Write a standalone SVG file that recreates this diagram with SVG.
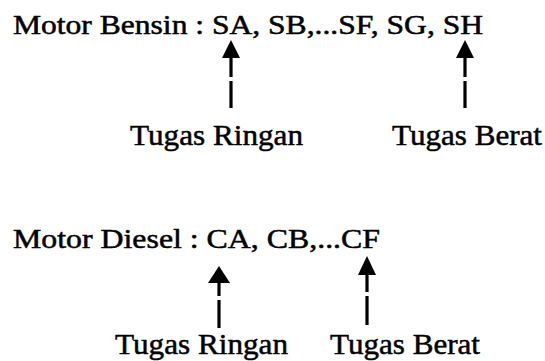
<svg xmlns="http://www.w3.org/2000/svg" xmlns:xlink="http://www.w3.org/1999/xlink" width="545" height="361" viewBox="0 0 545 361">
<style>
text{font-family:"Liberation Serif","Times New Roman",serif;fill:#000;stroke:#000;stroke-width:0.5}
.main{font-size:27px}
.lbl{font-size:29px}
.shaft{stroke:#000;stroke-width:3.2;fill:none}
.head{fill:#000}
</style>
<defs>
<polygon id="ah" points="0,0 -9,18 9,18"/>
</defs>
<rect width="545" height="361" fill="#fff"/>
<g id="bensin"><text class="main" x="13" y="34" textLength="470" lengthAdjust="spacingAndGlyphs">Motor Bensin : SA, SB,...SF, SG, SH</text></g>
<g id="bensin-ringan"><text class="lbl" x="130" y="145" textLength="173" lengthAdjust="spacingAndGlyphs">Tugas Ringan</text></g>
<g id="bensin-berat"><text class="lbl" x="392" y="145" textLength="150" lengthAdjust="spacingAndGlyphs">Tugas Berat</text></g>
<g id="diesel"><text class="main" x="13" y="248" textLength="367" lengthAdjust="spacingAndGlyphs">Motor Diesel : CA, CB,...CF</text></g>
<g id="diesel-ringan"><text class="lbl" x="115" y="354" textLength="173" lengthAdjust="spacingAndGlyphs">Tugas Ringan</text></g>
<g id="diesel-berat"><text class="lbl" x="330" y="354" textLength="150" lengthAdjust="spacingAndGlyphs">Tugas Berat</text></g>
<g id="connectors">
<line class="shaft" x1="231" y1="57" x2="231" y2="77"/><line class="shaft" x1="231" y1="81" x2="231" y2="108"/>
<use xlink:href="#ah" class="head" x="231" y="40"/>
<line class="shaft" x1="465" y1="57" x2="465" y2="77"/><line class="shaft" x1="465" y1="81" x2="465" y2="108"/>
<use xlink:href="#ah" class="head" x="465" y="40"/>
<line class="shaft" x1="219" y1="281" x2="219" y2="296"/><line class="shaft" x1="219" y1="300" x2="219" y2="328"/>
<polygon class="head" points="219,266 208,283 230,283"/>
<line class="shaft" x1="367" y1="274" x2="367" y2="292"/><line class="shaft" x1="367" y1="296" x2="367" y2="325"/>
<polygon class="head" points="367,256 358,275 376,275"/>
</g>
</svg>
